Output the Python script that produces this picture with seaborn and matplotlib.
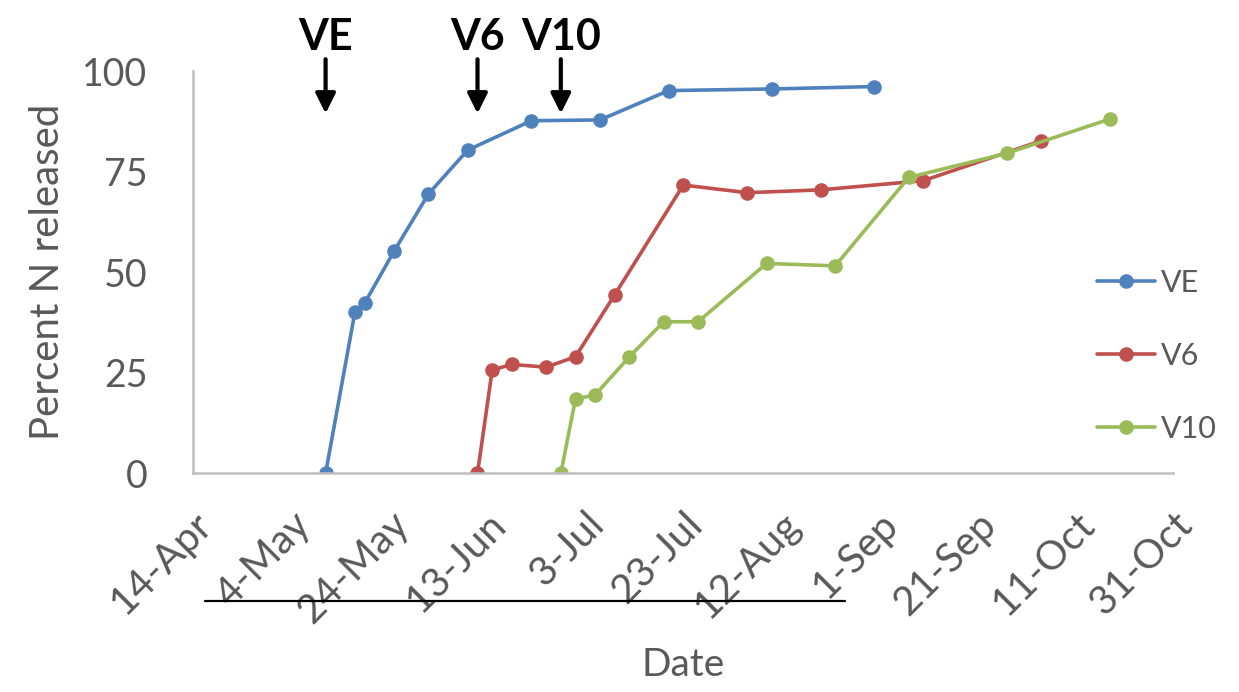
import pandas as pd
import numpy as np
import matplotlib.pyplot as plt
import matplotlib.dates as mdates
import seaborn as sns

# Sampling dates and percent N released
ve_dates = ['2014-05-11', '2014-05-17', '2014-05-19', '2014-05-25', '2014-06-01',
            '2014-06-09', '2014-06-22', '2014-07-06', '2014-07-20', '2014-08-10',
            '2014-08-31']
ve_values = [0, 40.2, 42.4, 55.3, 69.5, 80.4, 87.7, 87.9, 95.2, 95.6, 96.2]

v6_dates = ['2014-06-11', '2014-06-14', '2014-06-18', '2014-06-25', '2014-07-01',
            '2014-07-09', '2014-07-23', '2014-08-05', '2014-08-20', '2014-09-10',
            '2014-10-04']
v6_values = [0, 25.7, 27.1, 26.4, 29.0, 44.4, 71.7, 69.8, 70.5, 72.8, 82.7]

v10_dates = ['2014-06-28', '2014-07-01', '2014-07-05', '2014-07-12', '2014-07-19',
             '2014-07-26', '2014-08-09', '2014-08-23', '2014-09-07', '2014-09-27',
             '2014-10-18']
v10_values = [0, 18.5, 19.5, 29.0, 37.7, 37.7, 52.2, 51.6, 73.6, 79.6, 88.1]

stages = ['VE', 'V6', 'V10']
tick_dates = ['2014-04-14', '2014-05-04', '2014-05-24', '2014-06-13', '2014-07-03',
              '2014-07-23', '2014-08-12', '2014-09-01', '2014-09-21', '2014-10-11',
              '2014-10-31']
tick_labels = ['14-Apr', '4-May', '24-May', '13-Jun', '3-Jul', '23-Jul',
               '12-Aug', '1-Sep', '21-Sep', '11-Oct', '31-Oct']
y_ticks = [0, 25, 50, 75, 100]

# build long table for seaborn
frames = []
for name, d, v in zip(stages, [ve_dates, v6_dates, v10_dates],
                      [ve_values, v6_values, v10_values]):
    frames.append(pd.DataFrame({'Date': pd.to_datetime(d), 'Percent': v, 'Stage': name}))
df = pd.concat(frames, ignore_index=True)

sns.set_theme(style="white")
plt.rcParams['font.family'] = ['Lato', 'DejaVu Sans']
gray = '#595959'
axis_gray = '#BFBFBF'
palette = {'VE': '#4F81BD', 'V6': '#C0504D', 'V10': '#9BBB59'}

fig = plt.figure(figsize=(12.39, 6.92), dpi=100)
ax = fig.add_axes([0.156, 0.316, 0.791, 0.581])

sns.lineplot(data=df, x='Date', y='Percent', hue='Stage', hue_order=stages,
             palette=palette, marker='o', markersize=10.5, markeredgewidth=0,
             linewidth=2.6, sort=False, ax=ax)

ax.set_xlim(pd.Timestamp(tick_dates[0]), pd.Timestamp(tick_dates[-1]))
ax.set_ylim(0, 100)
ax.set_xticks(pd.to_datetime(tick_dates))
ax.set_xticklabels(tick_labels, rotation=45, ha='right', rotation_mode='anchor')
ax.set_yticks(y_ticks)

for side in ['top', 'right']:
    ax.spines[side].set_visible(False)
for side in ['left', 'bottom']:
    ax.spines[side].set_color(axis_gray)
    ax.spines[side].set_linewidth(1.8)
ax.tick_params(axis='both', direction='out', length=11, width=1.8, color=axis_gray,
               labelcolor=gray, labelsize=27)
ax.tick_params(axis='x', pad=12, labelsize=29)
ax.tick_params(axis='y', pad=22)

ax.set_xlabel('Date', fontsize=28, color=gray, labelpad=12)
ax.set_ylabel('Percent N released', fontsize=29, color=gray, labelpad=12)

# growth stage arrows at the first sampling date of each series
for name, d in zip(stages, [ve_dates[0], v6_dates[0], v10_dates[0]]):
    x = mdates.date2num(pd.Timestamp(d))
    ax.annotate('', xy=(x, 89.5), xytext=(x, 103),
                arrowprops=dict(arrowstyle='-|>', color='black', lw=3,
                                mutation_scale=30, shrinkA=0, shrinkB=0),
                annotation_clip=False)
    ax.text(x, 108.5, name, fontsize=31, fontweight='bold', color='black',
            ha='center', va='center', clip_on=False)

leg = ax.legend(loc='center left', bbox_to_anchor=(0.885, 0.486),
                bbox_transform=fig.transFigure, frameon=False, fontsize=22,
                labelcolor=gray, handlelength=1.9, handletextpad=0.2,
                labelspacing=1.47, borderpad=0, borderaxespad=0)
for h in leg.legend_handles:
    h.set_markersize(10.5)

# stray black rule across the tick labels, as in the source image
fig.add_artist(plt.Line2D([205 / 1239, 845 / 1239], [1 - 601 / 692, 1 - 601 / 692],
                          color='black', lw=1.6))

plt.savefig('out.png', dpi=100)
plt.close()
